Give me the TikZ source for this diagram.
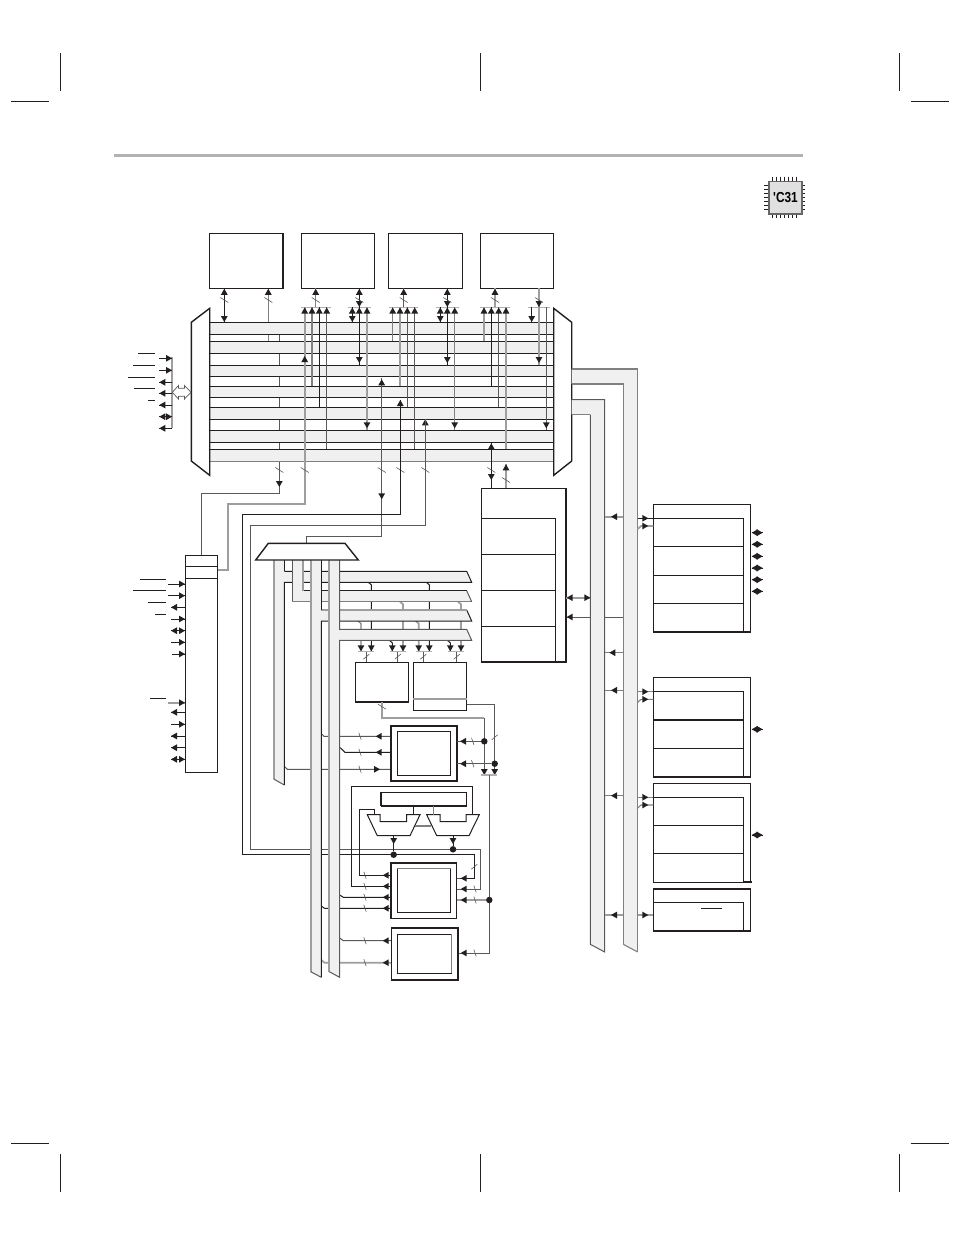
\documentclass[tikz,border=0pt]{standalone}
\usepackage{fontspec}
\newfontfamily\chipfont{Liberation Sans}
\definecolor{inkk}{HTML}{231F20}
\tikzset{
    wirek/.style = {draw=inkk,line width=1pt},
    wired/.style = {draw=black!65,line width=1pt},
    wireg/.style = {draw=black!50,line width=1.1pt},
    wirel/.style = {draw=black!38,line width=1.7pt},
    cropmark/.style = {draw=inkk,line width=1pt},
    tapbar/.style = {draw=black!30,line width=1.2pt},
    tick/.style = {draw=black!65,line width=0.6pt},
    busfill/.style = {fill=black!6},
    blockbox/.style = {rectangle,draw=inkk,line width=1pt,fill=white,inner sep=0pt,outer sep=0pt,anchor=north west},
    heavybox/.style = {blockbox,line width=1.6pt},
    dotjoin/.style = {circle,fill=inkk,inner sep=0pt,outer sep=0pt,minimum size=6.5pt}
}
% arrow heads sit anywhere along a wire
\newcommand{\tipu}[2]{\fill[inkk] (#1,#2) -- ++(-3.4,6) -- ++(6.8,0) -- cycle;}
\newcommand{\tipd}[2]{\fill[inkk] (#1,#2) -- ++(-3.4,-6) -- ++(6.8,0) -- cycle;}
\newcommand{\tipl}[2]{\fill[inkk] (#1,#2) -- ++(6,-3.4) -- ++(0,6.8) -- cycle;}
\newcommand{\tipr}[2]{\fill[inkk] (#1,#2) -- ++(-6,-3.4) -- ++(0,6.8) -- cycle;}
% width marks on wires
\newcommand{\ticka}[2]{\draw[tick] (#1-4,#2-2.5) -- (#1+4,#2+2.5);}
\newcommand{\tickb}[2]{\draw[tick] (#1-3,#2+2.5) -- (#1+3,#2-2.5);}
\newcommand{\tickh}[2]{\draw[tick] (#1-1.2,#2-3.5) -- (#1+1.2,#2+3.5);}

\begin{document}
\begin{tikzpicture}[x=1pt,y=-1pt]
\useasboundingbox (0,0) rectangle (954,1235);
\fill[white] (0,0) rectangle (954,1235);

% page furniture
\foreach \x in {60.3,480,899.3} {
  \draw[cropmark] (\x,53) -- (\x,90.7);
  \draw[cropmark] (\x,1154) -- (\x,1191.7);
}
\foreach \y in {101.3,1143.3} {
  \draw[cropmark] (11,\y) -- (49,\y);
  \draw[cropmark] (910.7,\y) -- (948.7,\y);
}
\draw[draw=black!30,line width=3pt] (114,155.7) -- (803,155.7);

% device badge
\foreach \i in {0,...,6} {
  \draw[inkk,line width=1pt] (772.5+\i*4,176.5) -- (772.5+\i*4,180.7);
  \draw[inkk,line width=1pt] (772.5+\i*4,213.3) -- (772.5+\i*4,217.5);
  \draw[inkk,line width=1pt] (764,185+\i*4) -- (768.3,185+\i*4);
  \draw[inkk,line width=1pt] (801,185+\i*4) -- (805.3,185+\i*4);
}
\node[rectangle,draw=black!60,line width=1.7pt,fill=black!12,inner sep=0pt,minimum width=32.7pt,minimum height=32.6pt,anchor=north west,font=\chipfont\bfseries\fontsize{14.5}{14.5}\selectfont] (badge) at (768.3,180.7) {\scalebox{0.82}[1]{'C31}};

% wires that run behind the bus bands
\draw[wired] (279.3,334.3) -- (279.3,493.3) -- (201.3,493.3) -- (201.3,555);
\draw[wireg] (268.3,288.3) -- (268.3,341.3);

% seven horizontal buses
\foreach \n/\t/\b in {1/322.3/334.3,2/341.3/353.3,3/365.3/376.3,4/386.3/397.3,5/407.3/419.3,6/430.3/442.3} {
  \coordinate (bus\n t) at (0,\t);
  \coordinate (bus\n b) at (0,\b);
  \fill[busfill] (209.7,\t) rectangle (553.7,\b);
  \draw[wirek] (209.7,\t) -- (553.7,\t);
  \draw[wirek] (209.7,\b) -- (553.7,\b);
}
\coordinate (bus7t) at (0,449.3);
\coordinate (bus7b) at (0,461.3);
\fill[busfill] (209.7,449.3) rectangle (553.7,461.3);
\draw[wirek] (209.7,449.3) -- (553.7,449.3);
\draw[wireg] (209.7,449.3) -- (209.7,461.3) -- (553.7,461.3);

% top row of memories
\node[blockbox,minimum width=73.7pt,minimum height=55pt] (cache) at (209.3,233.3) {};
\node[blockbox,minimum width=73.4pt,minimum height=55pt] (ramzero) at (301.3,233.3) {};
\node[blockbox,minimum width=74pt,minimum height=55pt] (ramone) at (388.3,233.3) {};
\node[blockbox,minimum width=73.4pt,minimum height=55pt] (romblock) at (480.3,233.3) {};
\foreach \m in {cache,ramzero,ramone,romblock} {
  \draw[inkk,line width=1.6pt] (\m.south west) -- (\m.south east);
}
\draw[inkk,line width=1.6pt] (cache.north east) -- (cache.south east);
\draw[inkk,line width=1.6pt] (ramone.north east) -- (ramone.south east);

% side multiplexers
\draw[wirek,line width=1.4pt,fill=white] (209.7,308.3) -- (191.3,322.3) -- (191.3,461) -- (209.7,475.3) -- cycle;
\draw[wirek,line width=1.4pt,fill=white] (553.7,308.3) -- (571.7,322.3) -- (571.7,461) -- (553.7,475.3) -- cycle;

% tap bars under the memories
\draw[tapbar] (301.3,307.3) -- (330.7,307.3);
\draw[tapbar] (348.3,307.3) -- (370.7,307.3);
\draw[tapbar] (389.3,307.3) -- (418.3,307.3);
\draw[tapbar] (436.3,307.3) -- (458.7,307.3);
\draw[tapbar] (480.3,307.3) -- (509.7,307.3);
\draw[tapbar] (528,307.3) -- (550,307.3);

% memory ports
\draw[wirek] (cache.south -| 224.3,0) -- (224.3,0 |- bus1t);
\tipu{224.3}{288.8} \tipd{224.3}{322}
\tipu{268.3}{288.8}
\draw[wireg] (ramzero.south -| 315.7,0) -- (315.7,307.3);
\tipu{315.7}{288.8}
\draw[wirek] (ramzero.south -| 359.3,0) -- (359.3,0 |- bus3t);
\tipu{359.3}{288.8} \tipd{359.3}{307} \tipd{359.3}{363}
\draw[wired] (ramone.south -| 403.7,0) -- (403.7,307.3);
\tipu{403.7}{288.8}
\draw[wirek] (ramone.south -| 447.3,0) -- (447.3,0 |- bus3t);
\tipu{447.3}{288.8} \tipd{447.3}{307} \tipd{447.3}{363}
\draw[wirel] (romblock.south -| 495,0) -- (495,307.3);
\tipu{495}{288.8}
\draw[wirel] (romblock.south -| 539,0) -- (539,0 |- bus3t);
\tipd{539}{307} \tipd{539}{363}
\foreach \x in {224.3,268.3,315.7,359.3,403.7,447.3,495,539} {\ticka{\x}{300}}

% drops from the tap bars into the buses
\foreach \x/\stl/\n in {312/wireg/4,319.3/wirek/5,326.7/wired/7,392.7/wireg/2,400/wirel/4,407.3/wired/5,414.7/wired/7,484/wirel/2,491.3/wirek/4,498.7/wired/5,506/wirel/7} {
  \draw[\stl] (\x,307.3) -- (\x,0 |- bus\n t);
  \tipu{\x}{307.5}
}
\foreach \x/\stl/\n/\y in {367/wirel/6/428.3,454.7/wireg/6/428.3,546.3/wired/6/428.3} {
  \draw[\stl] (\x,307.3) -- (\x,0 |- bus\n t);
  \tipd{\x}{\y}
}
\foreach \x in {367,454.7} {\tipu{\x}{307.5}}
\tipu{359.3}{307.5} \tipu{447.3}{307.5}
\foreach \x in {352.3,440.3} {
  \draw[wirek] (\x,307.3) -- (\x,0 |- bus1t);
  \tipu{\x}{307.5} \tipd{\x}{322}
}
\draw[wirek] (531.7,307.3) -- (531.7,0 |- bus1t);
\tipd{531.7}{322}

% lines into the control block and the register multiplexer
\draw[wirel] (304.7,307.3) -- (304.7,504.3) -- (227.7,504.3) -- (227.7,570) -- (217.3,570);
\tipu{304.7}{307.5} \tipu{304.7}{356}
\tipd{279.3}{487}
\draw[wired] (381.7,378) -- (381.7,536) -- (306.7,536) -- (306.7,543.3);
\tipu{381.7}{379.3} \tipd{381.7}{499.3}
\tipu{400.3}{400} \tipu{425.3}{419.3}
\draw[wirek] (491.3,443.3) -- (491.3,488.3);
\tipu{491.3}{443.3} \tipd{491.3}{480}
\draw[wirel] (506,464.3) -- (506,488.3);
\tipu{506}{464.3}
\foreach \x in {279.3,304.7,381.7,400.3,425.3,491.3} {\ticka{\x}{470}}
\ticka{506}{480}

% address loops, they pass behind the vertical buses
\draw[wirek] (400.3,400) -- (400.3,514.3) -- (242.3,514.3) -- (242.3,854.7) -- (474.3,854.7) -- (474.3,878.3) -- (460,878.3);
\draw[wired] (425.3,419.3) -- (425.3,525.7) -- (250,525.7) -- (250,849.3) -- (480.3,849.3) -- (480.3,889) -- (460,889);

% taps from the data buses down to the register files
\foreach \x/\ytop/\stl in {371.3/582.3/wirek,429.3/582.3/wirek,403/601.7/wirel,461/601.7/wirel,361/621/wireg,418.7/621/wirel,392.3/640.3/wirek,450.3/640.3/wirek} {
  \draw[\stl] (\x-3,\ytop) -- (\x,\ytop+2.5) -- (\x,651);
  \tipd{\x}{651.3}
}
\foreach \a/\b/\x in {358.3/374.3/366.3,389.7/405.7/397.7,416/432/423.3,447.7/463.7/456.7} {
  \draw[tapbar] (\a,651.6) -- (\b,651.6);
  \draw[wired] (\x,651.6) -- (\x,662.3);
  \tickb{\x}{656.7}
}

% horizontal feeds behind the vertical buses
\draw[wired] (321.3,733.5) -- (324,736.3) -- (390.7,736.3);
\draw[wirek] (340,747.5) -- (345,752.3) -- (390.7,752.3);
\draw[wired] (284.3,766.5) -- (287.5,769.3) -- (390.7,769.3);
\draw[wirek] (339.7,895) -- (343.3,897.3) -- (390.7,897.3);
\draw[wirek] (321.3,906) -- (324.5,908.3) -- (390.7,908.3);
\draw[wired] (339.7,938) -- (343.3,940.7) -- (391.3,940.7);
\draw[wirel] (321.3,960) -- (324.5,962.7) -- (391.3,962.7);
\draw[wired] (566,617) -- (623.3,617);

% data and address buses out of the register multiplexer
\fill[busfill] (273.7,560) -- (273.7,779) -- (284.3,785) -- (284.3,582.3) -- (471.7,582.3) -- (466.7,571.3) -- (284.3,571.3) -- (284.3,560) -- cycle;
\draw[wirel] (273.7,560) -- (273.7,779);
\draw[wired] (273.7,779) -- (284.3,785);
\draw[wirek] (284.3,785) -- (284.3,582.3) -- (471.7,582.3) -- (466.7,571.3) -- (284.3,571.3);
\draw[wirek] (284.3,560) -- (284.3,571.3);
\fill[busfill] (292.3,560) -- (292.3,601.7) -- (471.7,601.7) -- (466.7,590.7) -- (302.7,590.7) -- (302.7,560) -- cycle;
\draw[wired] (292.3,560) -- (292.3,601.7);
\draw[wireg] (292.3,601.7) -- (471.7,601.7);
\draw[wired] (471.7,601.7) -- (466.7,590.7);
\draw[wirek] (466.7,590.7) -- (302.7,590.7);
\draw[wirel] (302.7,590.7) -- (302.7,560);
\fill[busfill] (310.7,560) -- (310.7,971.7) -- (321.3,977.3) -- (321.3,621) -- (471.7,621) -- (466.7,610) -- (321.3,610) -- (321.3,560) -- cycle;
\draw[wirel] (310.7,560) -- (310.7,971.7);
\draw[wired] (310.7,971.7) -- (321.3,977.3);
\draw[wirek] (321.3,977.3) -- (321.3,621) -- (471.7,621) -- (466.7,610);
\draw[wirel] (466.7,610) -- (321.3,610);
\draw[wirek] (321.3,610) -- (321.3,560);
\fill[busfill] (329.3,560) -- (329.3,971.7) -- (339.7,977.3) -- (339.7,640.3) -- (471.7,640.3) -- (466.7,629.3) -- (339.7,629.3) -- (339.7,560) -- cycle;
\draw[wirel] (329.3,560) -- (329.3,971.7);
\draw[wired] (329.3,971.7) -- (339.7,977.3) -- (339.7,640.3) -- (471.7,640.3) -- (466.7,629.3) -- (339.7,629.3) -- (339.7,560);

% register multiplexer
\draw[wirek,line width=1.4pt,fill=white] (268.3,543.3) -- (345,543.3) -- (358.3,560) -- (255.7,560) -- cycle;

% buses out of the right multiplexer
\fill[busfill] (571.7,369) -- (637.7,369) -- (637.7,952) -- (623.3,944.3) -- (623.3,384) -- (571.7,384) -- cycle;
\draw[wireg] (571.7,369) -- (637.7,369) -- (637.7,952);
\draw[wireg] (637.7,952) -- (623.3,944.3);
\draw[wireg] (623.3,944.3) -- (623.3,384) -- (571.7,384);
\fill[busfill] (571.7,399.7) -- (604.7,399.7) -- (604.7,952) -- (590.3,944.3) -- (590.3,414.7) -- (571.7,414.7) -- cycle;
\draw[wired] (571.7,399.7) -- (604.7,399.7) -- (604.7,952) -- (590.3,944.3) -- (590.3,414.7);
\draw[wireg] (590.3,414.7) -- (571.7,414.7);

% control block and its signals
\node[blockbox,minimum width=32pt,minimum height=217.7pt] (ctl) at (185.3,555) {};
\draw[wirek] (ctl.west |- 0,566.3) -- (ctl.east |- 0,566.3);
\draw[wirek] (ctl.west |- 0,578.3) -- (ctl.east |- 0,578.3);
\foreach \y in {584,595.7} {
  \draw[wirek] (168.3,\y) -- (ctl.west |- 0,\y);
  \tipr{185}{\y}
}
\foreach \y in {619,642.3,724.3} {
  \draw[wirek] (171,\y) -- (ctl.west |- 0,\y);
  \tipr{185}{\y}
}
\draw[wirek] (172,654) -- (ctl.west |- 0,654); \tipr{185}{654}
\foreach \y in {607.3,712.3,736,747.7} {
  \draw[wirek] (171,\y) -- (ctl.west |- 0,\y);
  \tipl{171}{\y}
}
\foreach \y in {630.7,759.3} {
  \draw[wirek] (171,\y) -- (ctl.west |- 0,\y);
  \tipl{171}{\y} \tipr{185}{\y}
}
\draw[wirel] (168.3,702.7) -- (ctl.west |- 0,702.7); \tipr{185}{702.7}
\foreach \a/\y in {140/579.3,133.3/590.3,148/602.3,155/614.3,150/698.3} {
  \draw[wirek] (\a,\y) -- (166,\y);
}

% external bus pins on the left
\draw[wirel] (172,357.3) -- (172,428.3);
\foreach \y in {358.3,370.3} {
  \draw[wirek] (159.3,\y) -- (172,\y);
  \tipr{172}{\y}
}
\foreach \y in {382.3,393.3,405,428.3} {
  \draw[wirek] (159.3,\y) -- (172,\y);
  \tipl{159.3}{\y}
}
\draw[wirek] (159.3,416.7) -- (172,416.7);
\tipl{159.3}{416.7} \tipr{172}{416.7}
\foreach \a/\y in {138/353.3,133.3/365.3,128/377.3,134/388.3,148/400.3} {
  \draw[wirek] (\a,\y) -- (154.7,\y);
}
\draw[wired,line width=0.7pt,fill=white] (172.3,392.3) -- (178.5,385.5) -- (178.5,388.3) -- (184.5,388.3) -- (184.5,385.5) -- (191,392.3) -- (184.5,399) -- (184.5,396.3) -- (178.5,396.3) -- (178.5,399) -- cycle;

% central block with four registers
\node[heavybox,minimum width=84.7pt,minimum height=173.7pt] (dmablock) at (481.3,488.3) {};
\draw[wirek] (dmablock.north west |- 0,518.5) -- (555,518.5) -- (555,0 |- dmablock.south);
\foreach \y in {554.3,590,626} {
  \draw[wirek] (dmablock.west |- 0,\y) -- (555,\y);
}
\draw[wirel] (dmablock.east |- 0,597.7) -- (590.3,597.7);
\tipl{566.7}{597.7} \tipr{590.3}{597.7}
\tipl{566.7}{617}

% operand memories and register files
\node[blockbox,minimum width=53.4pt,minimum height=39.7pt] (arauzero) at (355.3,662.3) {};
\draw[inkk,line width=1.6pt] (arauzero.south west) -- (arauzero.south east);
\node[blockbox,minimum width=53.4pt,minimum height=48pt] (arauone) at (413.3,662.3) {};
\draw[wirel] (arauone.west |- 0,699) -- (arauone.east |- 0,699);

\draw[wirel] (arauzero.south -| 382,0) -- (382,718.3) -- (484.3,718.3);
\draw[wired] (484.3,718.3) -- (484.3,775);
\draw[wired] (arauone.east |- 0,704.3) -- (494.7,704.3) -- (494.7,775);
\ticka{382}{706.7}
\tickb{494.7}{737.3}

% multiplier block
\node[heavybox,minimum width=66pt,minimum height=55.3pt] (multbox) at (390.7,725.7) {};
\node[blockbox,minimum width=53.4pt,minimum height=44.4pt] (multcore) at (397.3,731.3) {};
\node[dotjoin] (dota) at (484.3,741.3) {};
\node[dotjoin] (dotb) at (494.7,763.7) {};
\draw[wired] (dota) -- (multbox.east |- dota);
\draw[wired] (dotb) -- (multbox.east |- dotb);
\tipl{460}{741.3} \tipl{460}{763.7}
\tickh{472.7}{741.3} \tickh{472.7}{763.7}
\tipl{375.7}{736.3} \tipl{375.7}{752.3} \tipr{380}{769.3}
\foreach \y in {736.3,752.3,769.3} {\tickh{360}{\y}}
\tipd{484.3}{775} \tipd{494.7}{775}
\draw[tapbar] (481.3,775) -- (497.3,775);

% output loop and the register file above the ALU
\draw[wirek] (351.3,886.3) -- (351.3,786) -- (472.3,786) -- (472.3,814.7);
\node[blockbox,minimum width=86pt,minimum height=13pt] (extregs) at (380.7,792.7) {};
\draw[inkk,line width=1.8pt] (extregs.south west) -- (extregs.south east);
\draw[inkk,line width=1.6pt] (extregs.north west) -- (extregs.south west);

% ALU input multiplexers
\draw[wirek,fill=white] (367.3,814.7) -- (380,814.7) -- (380,821.7) -- (406.7,821.7) -- (406.7,814.7) -- (420,814.7) -- (410,835.7) -- (377.3,835.7) -- cycle;
\draw[wirek,fill=white] (426.7,814.7) -- (440,814.7) -- (440,821.7) -- (466,821.7) -- (466,814.7) -- (479.3,814.7) -- (469,835.7) -- (436.7,835.7) -- cycle;
\draw[wirek] (extregs.south -| 413.3,0) -- (413.3,814.7);
\draw[wireg] (extregs.south -| 433.3,0) -- (433.3,814.7);
\draw[wireg] (415,826) -- (430.7,826);
\node[dotjoin] (dotc) at (393.7,854.7) {};
\node[dotjoin] (dotd) at (453,849.3) {};
\draw[wirek] (393.7,835.7) -- (dotc);
\draw[wirek] (453,835.7) -- (dotd);
\tipd{393.7}{844} \tipd{453}{844}
\draw[wirek] (374,814.7) -- (374,809.3) -- (359.3,809.3) -- (359.3,875.3) -- (390.7,875.3);

% ALU block
\node[blockbox,minimum width=66pt,minimum height=55.6pt] (alubox) at (390.7,862.7) {};
\draw[inkk,line width=1.8pt] (alubox.south west) -- (alubox.north west) -- (alubox.north east);
\node[blockbox,minimum width=53.4pt,minimum height=44pt] (alucore) at (397.3,868.7) {};
\draw[wireg] (alucore.north west) -- (alucore.north east);
\draw[wirek] (351.3,886.3) -- (alubox.west |- 0,886.3);
\foreach \y in {875.3,886.3,897.3,908.3} {
  \tipl{382.7}{\y}
  \tickh{365}{\y}
}
\draw[wired] (460,878.3) -- (alubox.east |- 0,878.3);
\draw[wired] (460,889) -- (alubox.east |- 0,889);
\tipl{460.7}{878.3} \tipl{460.7}{889}
\tickb{474.3}{866.7}
\tickh{475}{889}
\draw[wired] (489.3,775) -- (489.3,953) -- (458,953);
\node[dotjoin] (dote) at (489.3,900) {};
\draw[wirel] (dote) -- (alubox.east |- dote);
\tipl{460.7}{900}
\tickh{475}{900}
\node[heavybox,minimum width=66.7pt,minimum height=52pt] (regbox) at (391.3,928) {};
\draw[inkk,line width=2.4pt] (regbox.north east) -- (regbox.south east);
\node[blockbox,minimum width=54pt,minimum height=39pt] (regcore) at (397.7,934.3) {};
\draw[wireg] (regcore.north east) -- (regcore.south east);
\tipl{382.7}{940.7} \tipl{382.7}{962.7}
\tickh{365}{940.7} \tickh{365}{962.7}
\tipl{460.7}{953}
\tickh{475}{953}

% peripheral blocks on the right
\node[blockbox,minimum width=97.4pt,minimum height=127.7pt] (serport) at (653.3,504.3) {};
\draw[inkk,line width=1.6pt] (serport.south west) -- (serport.south east);
\draw[wirek] (serport.west |- 0,518.3) -- (743.3,518.3) -- (743.3,0 |- serport.south);
\draw[wirek,line width=1.5pt] (serport.west |- 0,546.7) -- (743.3,546.7);
\draw[wirek] (serport.west |- 0,575.3) -- (743.3,575.3);
\draw[wirek] (serport.west |- 0,603.3) -- (743.3,603.3);
\node[blockbox,line width=1.5pt,minimum width=97.4pt,minimum height=99.7pt] (timerzero) at (653.3,677.3) {};
\draw[wirek] (timerzero.west |- 0,691.7) -- (743.3,691.7) -- (743.3,0 |- timerzero.south);
\draw[wirek,line width=1.5pt] (timerzero.west |- 0,720) -- (743.3,720);
\draw[wirek] (timerzero.west |- 0,748.3) -- (743.3,748.3);
\node[blockbox,minimum width=97.4pt,minimum height=99pt] (timerone) at (653.3,783.3) {};
\draw[wirek,line width=1.5pt] (timerone.west |- 0,797.3) -- (743.3,797.3);
\draw[wirek] (743.3,797.3) -- (743.3,0 |- timerone.south);
\draw[wirek] (timerone.west |- 0,825.3) -- (743.3,825.3);
\draw[wirek,line width=1.5pt] (timerone.west |- 0,853.7) -- (743.3,853.7);
\draw[inkk,line width=1.8pt] (743.3,882.3) -- (751.5,882.3);
\node[blockbox,line width=1.5pt,minimum width=97.4pt,minimum height=42pt] (portctl) at (653.3,889) {};
\draw[wirek] (portctl.west |- 0,902.3) -- (743.3,902.3) -- (743.3,0 |- portctl.south);
\draw[wirek] (701,908.3) -- (722,908.3);

% peripheral bus stubs
\foreach \y in {532.7,544.3,556.3,568,579.7,591.3,729.3,835} {
  \draw[wirek] (751.7,\y) -- (762.7,\y);
  \tipl{751.7}{\y} \tipr{762.7}{\y}
}
\foreach \y/\stl/\tip in {516.7/wirel/611,652.7/wireg/609.3,690.3/wireg/611,795.7/wireg/611,915/wirel/611} {
  \draw[\stl] (623.3,\y) -- (604.7,\y);
  \tipl{\tip}{\y}
}
\foreach \y/\stl/\m in {518.3/wirek/serport,691.7/wireg/timerzero,797.3/wireg/timerone,915/wirel/portctl} {
  \draw[\stl] (637.7,\y) -- (\m.west |- 0,\y);
  \tipr{648.3}{\y}
}
\foreach \y/\stl/\m in {526/wirel/serport,699.3/wireg/timerzero,805/wireg/timerone} {
  \draw[\stl] (637.7,\y+3) -- (641,\y) -- (\m.west |- 0,\y);
  \tipr{648.3}{\y}
}
\end{tikzpicture}
\end{document}
